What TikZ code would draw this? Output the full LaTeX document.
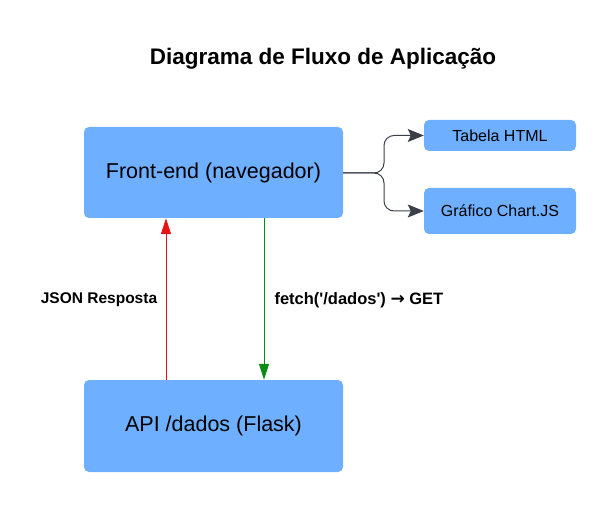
\documentclass[tikz,border=0pt]{standalone}
\usepackage{fontspec}
\setmainfont{Liberation Sans}[Ligatures=TeXOff]
\newfontfamily\arrowfont{DejaVu Sans}
\usetikzlibrary{arrows.meta}
\definecolor{boxblue}{RGB}{110,176,255}
\definecolor{linkgray}{RGB}{58,63,74}
\definecolor{redline}{RGB}{230,20,20}
\definecolor{greenline}{RGB}{10,140,20}
\tikzset{
  bigbox/.style={fill=boxblue, rounded corners=5pt, minimum width=259pt, minimum height=91pt, inner sep=0pt, font=\fontsize{21.5}{24}\selectfont},
  smallbox/.style={fill=boxblue, rounded corners=5pt, minimum width=152pt, inner sep=0pt, font=\fontsize{16}{18}\selectfont},
  lbl/.style={font=\bfseries\fontsize{15.5}{18}\selectfont},
  branch/.style={draw=linkgray, line width=1pt, rounded corners=10pt, -{Stealth[length=16pt,width=13pt,inset=3pt]}},
}
\begin{document}
\begin{tikzpicture}[x=1pt,y=-1pt]
\useasboundingbox (0,0) rectangle (616,513);
\node[font=\bfseries\fontsize{22.5}{26}\selectfont] (title) at (323,59) {Diagrama de Fluxo de Aplicação};
\node[bigbox] (fe) at (213.5,172.5) {Front-end (navegador)};
\node[bigbox, minimum height=92pt] (api) at (213.5,426) {API /dados (Flask)};
\node[smallbox, minimum height=31pt] (tab) at (500,135.5) {Tabela HTML};
\node[smallbox, minimum height=46pt] (graf) at (500,211) {Gráfico Chart.JS};
\coordinate (fork) at (384,173);
\draw[branch] (fe.east |- fork) -- (fork) -- (fork |- tab.west) -- (tab.west);
\draw[branch] (fe.east |- fork) -- (fork) -- (fork |- graf.west) -- (graf.west);
\draw[draw=redline, line width=1pt, -{Triangle[length=16pt,width=10pt]}] (api.north -| 166,0) -- (fe.south -| 166,0);
\draw[draw=greenline, line width=1pt, -{Triangle[length=16pt,width=10pt]}] (fe.south -| 264,0) -- (api.north -| 264,0);
\node[lbl] (l1) at (99,300) {JSON Resposta};
\node[lbl, font=\bfseries\fontsize{16.5}{18}\selectfont, anchor=west] (l2) at (271,300) {fetch('/dados') {\arrowfont\bfseries\fontsize{17}{16}\selectfont →} GET};
\end{tikzpicture}
\end{document}
